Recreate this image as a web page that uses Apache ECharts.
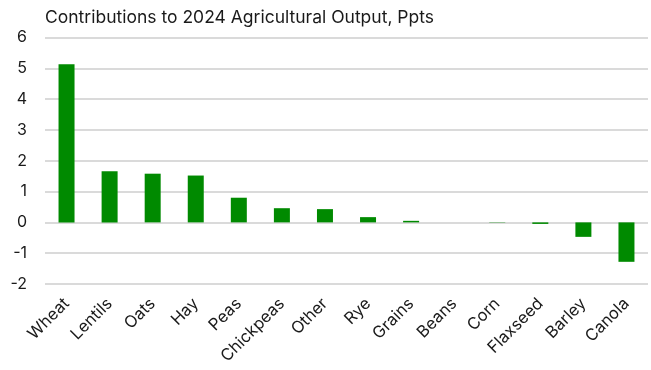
<!DOCTYPE html>
<html>
<head>
<meta charset="utf-8">
<script src="https://cdn.jsdelivr.net/npm/echarts@6/dist/echarts.min.js"></script>
<style>
  html, body { margin: 0; padding: 0; background: #fff; }
  #chart { width: 651px; height: 370px; }
</style>
</head>
<body>
<div id="chart"></div>
<script>
// Crop contributions to 2024 agricultural output growth, percentage points
const crops = ['Wheat', 'Lentils', 'Oats', 'Hay', 'Peas', 'Chickpeas', 'Other', 'Rye',
               'Grains', 'Beans', 'Corn', 'Flaxseed', 'Barley', 'Canola'];
const contributions = [5.13, 1.66, 1.58, 1.52, 0.80, 0.46, 0.43, 0.17,
                       0.05, 0.0, -0.01, -0.05, -0.47, -1.28];
const yTicks = { min: -2, max: 6, interval: 1 };

const chart = echarts.init(document.getElementById('chart'));
const fontFamily = 'Inter, "Noto Sans", sans-serif';

chart.setOption({
  animation: false,
  title: {
    text: 'Contributions to 2024 Agricultural Output, Ppts',
    left: 40,
    top: 4,
    textStyle: { fontFamily, fontSize: 17.5, fontWeight: 'normal', color: '#1a1a1a' }
  },
  grid: { left: 45, right: 3, top: 37.5, bottom: 86 },
  xAxis: {
    type: 'category',
    data: crops,
    axisLine: { show: false },
    axisTick: { show: false },
    axisLabel: {
      rotate: 45,
      interval: 0,
      margin: 17,
      fontFamily,
      fontSize: 16.5,
      color: '#1a1a1a'
    }
  },
  yAxis: {
    type: 'value',
    min: yTicks.min,
    max: yTicks.max,
    interval: yTicks.interval,
    axisLine: { show: false },
    axisTick: { show: false },
    axisLabel: { fontFamily, fontSize: 16, color: '#1a1a1a', margin: 18 },
    splitLine: { lineStyle: { color: '#dadada', width: 2 } }
  },
  series: [{
    type: 'bar',
    data: contributions,
    barWidth: 16,
    itemStyle: { color: '#008a00' }
  }]
});
</script>
</body>
</html>
